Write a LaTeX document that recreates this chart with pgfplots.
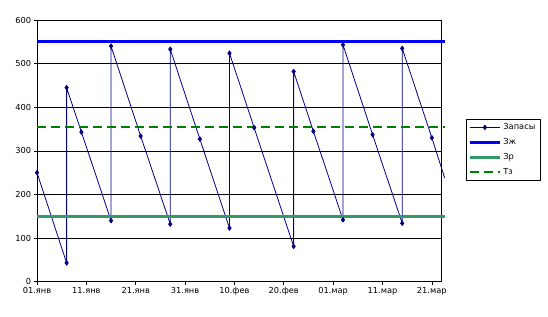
\documentclass[border=0pt]{standalone}
\usepackage{pgfplots}
\pgfplotsset{compat=1.18}
\usepackage{fontspec}
\setmainfont{DejaVu Sans}
\definecolor{zapas}{RGB}{0,0,128}
\definecolor{zzh}{RGB}{0,0,255}
\definecolor{zr}{RGB}{51,153,102}
\definecolor{tz}{RGB}{0,128,0}
\begin{document}
\fontsize{8.3}{10}\selectfont
\begin{tikzpicture}
\useasboundingbox (-37bp,-35.3bp) rectangle (511bp,281.7bp);
\begin{axis}[
  scale only axis, width=404.7bp, height=261.7bp,
  at={(0,0)}, anchor=south west,
  xmin=0, xmax=82, ymin=0, ymax=600,
  clip=false,
  xtick={0,10,...,80},
  xticklabels={01.янв,11.янв,21.янв,31.янв,10.фев,20.фев,01.мар,11.мар,21.мар},
  ytick={0,100,...,600},
  ymajorgrids, major grid style={black, line width=0.6pt},
  axis line style={black, line width=0.6pt},
  tick align=outside, xtick pos=bottom, ytick pos=left,
  major tick length=3bp,
  tick style={black, line width=0.6pt},
  tick label style={font=\fontsize{8.3}{10}\selectfont},
  /pgf/number format/assume math mode=true,
  legend style={at={(1.059,0.622)}, anchor=north west, draw=black, line width=0.6pt,
    font=\fontsize{8.3}{10}\selectfont, row sep=3.5bp, inner sep=2.5bp},
  legend cell align=left,
  legend image code/.code={\draw[mark repeat=2,mark phase=2,#1] plot coordinates {(0cm,0cm) (0.53cm,0cm) (1.06cm,0cm)};},
]
\addplot[color=zapas, line width=0.8pt, mark=diamond*, mark size=2.2pt, mark options={solid}] coordinates {
(0,250) (6,43) (6,445) (9,343) (15,140) (15,540) (21,334) (27,132) (27,533)
(33,327) (39,123) (39,524) (44,353) (52,81) (52,482) (56,345) (62,142) (62,543)
(68,337) (74,134) (74,535) (80,330)};
\addlegendentry{Запасы}
\addplot[color=zzh, line width=3bp] coordinates {(0,550) (82.6,550)};
\addlegendentry{Зж}
\addplot[color=zr, line width=3bp] coordinates {(0,150) (82.6,150)};
\addlegendentry{Зр}
\addplot[color=tz, line width=2bp, dash pattern=on 9bp off 5bp] coordinates {(0,355) (82.6,355)};
\addlegendentry{Тз}
\addplot[color=zapas, line width=0.8pt, forget plot] coordinates {(80,330) (82.6,238)};
\end{axis}
\end{tikzpicture}
\end{document}
